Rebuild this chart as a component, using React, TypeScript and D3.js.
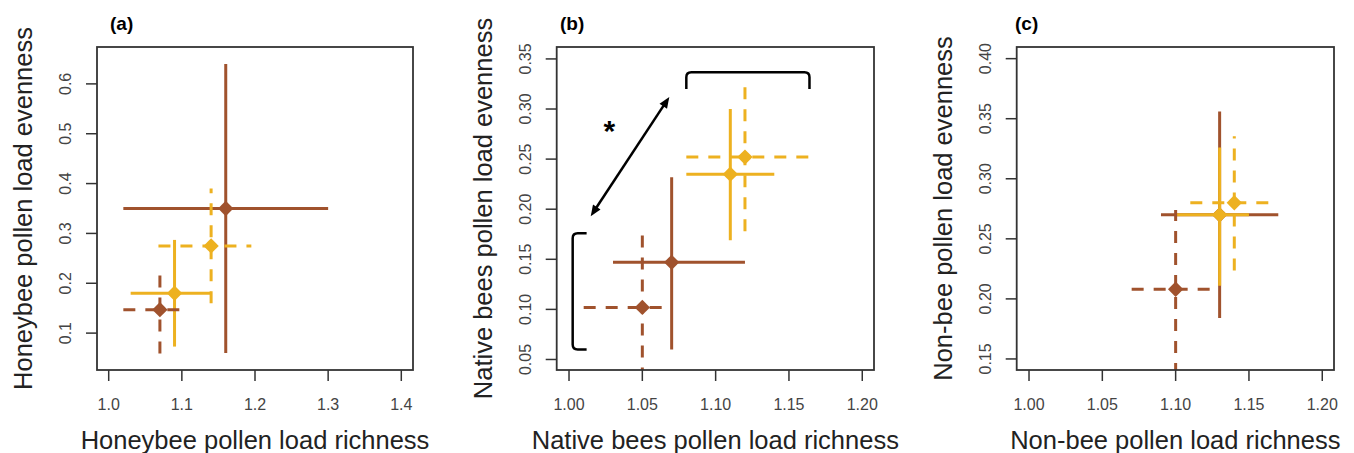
import React from 'react';
import * as d3 from 'd3';

const BROWN = '#A0522D';
const YELLOW = '#EDB120';

// Series order (drawing order): brown solid, yellow solid, brown dashed, yellow dashed
const seriesColor = [BROWN, YELLOW, BROWN, YELLOW];
const seriesDashed = [false, false, true, true];

// Panel (a) Honeybee
const aRichMean = [1.16, 1.09, 1.07, 1.14];
const aRichLo = [1.02, 1.03, 1.02, 1.068];
const aRichHi = [1.30, 1.14, 1.11, 1.195];
const aEvenMean = [0.35, 0.18, 0.147, 0.275];
const aEvenLo = [0.06, 0.073, 0.059, 0.16];
const aEvenHi = [0.64, 0.287, 0.235, 0.39];
const aXTicks = [1.0, 1.1, 1.2, 1.3, 1.4];
const aYTicks = [0.1, 0.2, 0.3, 0.4, 0.5, 0.6];

// Panel (b) Native bees
const bRichMean = [1.07, 1.11, 1.05, 1.12];
const bRichLo = [1.03, 1.08, 1.01, 1.08];
const bRichHi = [1.12, 1.14, 1.07, 1.17];
const bEvenMean = [0.147, 0.235, 0.102, 0.252];
const bEvenLo = [0.06, 0.169, 0.03, 0.178];
const bEvenHi = [0.232, 0.30, 0.174, 0.324];
const bXTicks = [1.0, 1.05, 1.1, 1.15, 1.2];
const bYTicks = [0.05, 0.1, 0.15, 0.2, 0.25, 0.3, 0.35];

// Panel (c) Non-bee
const cRichMean = [1.13, 1.13, 1.10, 1.14];
const cRichLo = [1.09, 1.10, 1.07, 1.11];
const cRichHi = [1.17, 1.15, 1.13, 1.17];
const cEvenMean = [0.27, 0.27, 0.208, 0.28];
const cEvenLo = [0.184, 0.211, 0.10, 0.2236];
const cEvenHi = [0.356, 0.326, 0.274, 0.3355];
const cXTicks = [1.0, 1.05, 1.1, 1.15, 1.2];
const cYTicks = [0.15, 0.2, 0.25, 0.3, 0.35, 0.4];

// Panel (b) annotations
const bBracketTop = { x0: 1.08, x1: 1.164, y: 0.3367, yEnd: 0.32 };
const bBracketLeft = { x: 1.0025, xEnd: 1.012, y0: 0.06, y1: 0.176 };
const bArrow = { x0: 1.0148, y0: 0.193, x1: 1.0684, y1: 0.312 };
const bStar = { x: 1.0275, y: 0.281, text: '*' };

const FONT = '"Liberation Sans", Arial, Helvetica, sans-serif';

type PanelProps = {
  id: string;
  label: string;
  labelX: number;
  left: number;
  right: number;
  xDomain: [number, number];
  yDomain: [number, number];
  xTicks: number[];
  yTicks: number[];
  fmt: string;
  richMean: number[];
  richLo: number[];
  richHi: number[];
  evenMean: number[];
  evenLo: number[];
  evenHi: number[];
  xTitle: string;
  yTitle: string;
  annot?: boolean;
};

const TOP = 47;
const BOTTOM = 370;

function Panel(p: PanelProps) {
  const x = d3.scaleLinear().domain(p.xDomain).range([p.left, p.right]);
  const y = d3.scaleLinear().domain(p.yDomain).range([BOTTOM, TOP]);
  const f = d3.format(p.fmt);
  const cx = (p.left + p.right) / 2;
  const cy = (TOP + BOTTOM) / 2;
  const diamond = d3.symbol().type(d3.symbolDiamond2).size(150)();
  const clipId = 'clip-' + p.id;

  let annot = null;
  if (p.annot) {
    const t = bBracketTop;
    const l = bBracketLeft;
    const r = 5;
    const topPath = `M${x(t.x0)},${y(t.yEnd)} L${x(t.x0)},${y(t.y) + r} Q${x(t.x0)},${y(t.y)} ${x(t.x0) + r},${y(t.y)} L${x(t.x1) - r},${y(t.y)} Q${x(t.x1)},${y(t.y)} ${x(t.x1)},${y(t.y) + r} L${x(t.x1)},${y(t.yEnd)}`;
    const leftPath = `M${x(l.xEnd)},${y(l.y1)} L${x(l.x) + r},${y(l.y1)} Q${x(l.x)},${y(l.y1)} ${x(l.x)},${y(l.y1) + r} L${x(l.x)},${y(l.y0) - r} Q${x(l.x)},${y(l.y0)} ${x(l.x) + r},${y(l.y0)} L${x(l.xEnd)},${y(l.y0)}`;
    const a = bArrow;
    const ax0 = x(a.x0), ay0 = y(a.y0), ax1 = x(a.x1), ay1 = y(a.y1);
    const ang = Math.atan2(ay1 - ay0, ax1 - ax0);
    const head = (px: number, py: number, dir: number) => {
      const L = 11, W = 4.5;
      const bx = px - Math.cos(dir) * L, by = py - Math.sin(dir) * L;
      const nx = -Math.sin(dir) * W, ny = Math.cos(dir) * W;
      return `M${px},${py} L${bx + nx},${by + ny} L${bx - nx},${by - ny} Z`;
    };
    const shorten = 8;
    annot = (
      <g>
        <path d={topPath} fill="none" stroke="#000" strokeWidth={2.5} />
        <path d={leftPath} fill="none" stroke="#000" strokeWidth={2.5} />
        <line
          x1={ax0 + Math.cos(ang) * shorten}
          y1={ay0 + Math.sin(ang) * shorten}
          x2={ax1 - Math.cos(ang) * shorten}
          y2={ay1 - Math.sin(ang) * shorten}
          stroke="#000"
          strokeWidth={2.5}
        />
        <path d={head(ax1, ay1, ang)} fill="#000" />
        <path d={head(ax0, ay0, ang + Math.PI)} fill="#000" />
        <text x={x(bStar.x)} y={y(bStar.y) + 13} textAnchor="middle" fontFamily={FONT} fontSize={30} fontWeight="bold" fill="#000">
          {bStar.text}
        </text>
      </g>
    );
  }

  return (
    <g>
      <defs>
        <clipPath id={clipId}>
          <rect x={p.left} y={TOP} width={p.right - p.left} height={BOTTOM - TOP} />
        </clipPath>
      </defs>
      <text x={p.labelX} y={30} fontFamily={FONT} fontSize={19} fontWeight="bold" fill="#000">
        {p.label}
      </text>
      {p.xTicks.map((t, i) => (
        <g key={'xt' + i}>
          <line x1={x(t)} x2={x(t)} y1={BOTTOM} y2={BOTTOM + 11} stroke="#333" strokeWidth={1.5} />
          <text x={x(t)} y={410} textAnchor="middle" fontFamily={FONT} fontSize={16} fill="#444">
            {f(t)}
          </text>
        </g>
      ))}
      {p.yTicks.map((t, i) => (
        <g key={'yt' + i}>
          <line x1={p.left - 11} x2={p.left} y1={y(t)} y2={y(t)} stroke="#333" strokeWidth={1.5} />
          <text
            transform={`translate(${p.left - 26},${y(t)}) rotate(-90)`}
            textAnchor="middle"
            fontFamily={FONT}
            fontSize={16}
            fill="#444"
          >
            {f(t)}
          </text>
        </g>
      ))}
      <text x={cx} y={449} textAnchor="middle" fontFamily={FONT} fontSize={25.5} fill="#222">
        {p.xTitle}
      </text>
      <text
        transform={`translate(${p.left - 65},${cy}) rotate(-90)`}
        textAnchor="middle"
        fontFamily={FONT}
        fontSize={25.5}
        fill="#222"
      >
        {p.yTitle}
      </text>
      <g clipPath={`url(#${clipId})`}>
        {p.richMean.map((m, i) => {
          const dash = seriesDashed[i] ? '12 10' : undefined;
          const col = seriesColor[i];
          return (
            <g key={'s' + i}>
              <line x1={x(p.richLo[i])} x2={x(p.richHi[i])} y1={y(p.evenMean[i])} y2={y(p.evenMean[i])}
                stroke={col} strokeWidth={3} strokeDasharray={dash} strokeLinecap="butt" />
              <line x1={x(m)} x2={x(m)} y1={y(p.evenLo[i])} y2={y(p.evenHi[i])}
                stroke={col} strokeWidth={3} strokeDasharray={dash} strokeLinecap="butt" />
              <path d={diamond} transform={`translate(${x(m)},${y(p.evenMean[i])})`} fill={col} />
            </g>
          );
        })}
        {annot}
      </g>
      <rect x={p.left} y={TOP} width={p.right - p.left} height={BOTTOM - TOP} fill="none" stroke="#333" strokeWidth={1.8} />
    </g>
  );
}

export default function App() {
  return (
    <svg width={1354} height={453} style={{ position: 'absolute', left: 0, top: 0, background: '#fff' }}>
      <rect x={0} y={0} width={1354} height={453} fill="#fff" />
      <Panel id="a" label="(a)" labelX={110} left={97} right={413}
        xDomain={[0.984, 1.416]} yDomain={[0.026, 0.674]}
        xTicks={aXTicks} yTicks={aYTicks} fmt=".1f"
        richMean={aRichMean} richLo={aRichLo} richHi={aRichHi}
        evenMean={aEvenMean} evenLo={aEvenLo} evenHi={aEvenHi}
        xTitle="Honeybee pollen load richness" yTitle="Honeybee pollen load evenness" />
      <Panel id="b" label="(b)" labelX={560} left={556.7} right={874}
        xDomain={[0.9916, 1.208]} yDomain={[0.0395, 0.3619]}
        xTicks={bXTicks} yTicks={bYTicks} fmt=".2f"
        richMean={bRichMean} richLo={bRichLo} richHi={bRichHi}
        evenMean={bEvenMean} evenLo={bEvenLo} evenHi={bEvenHi}
        xTitle="Native bees pollen load richness" yTitle="Native bees pollen load evenness" annot />
      <Panel id="c" label="(c)" labelX={1015} left={1016.7} right={1334}
        xDomain={[0.9916, 1.208]} yDomain={[0.1408, 0.4097]}
        xTicks={cXTicks} yTicks={cYTicks} fmt=".2f"
        richMean={cRichMean} richLo={cRichLo} richHi={cRichHi}
        evenMean={cEvenMean} evenLo={cEvenLo} evenHi={cEvenHi}
        xTitle="Non-bee pollen load richness" yTitle="Non-bee pollen load evenness" />
    </svg>
  );
}
